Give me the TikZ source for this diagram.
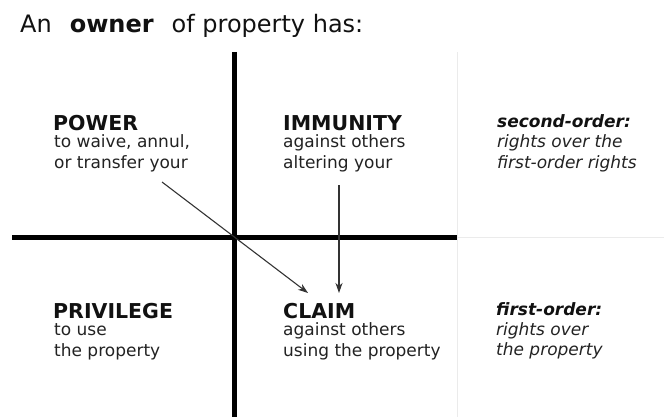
\documentclass[tikz,border=0pt]{standalone}
\usepackage{fontspec}
\setmainfont{DejaVu Sans}
\usetikzlibrary{arrows.meta}
\definecolor{ink}{HTML}{111111}
\definecolor{sub}{HTML}{222222}
\definecolor{faint}{HTML}{EBEBEB}
\definecolor{arr}{HTML}{333333}
\tikzset{
  head/.style={anchor=base west,inner sep=0pt,text=ink,font=\fontsize{20.5}{24}\selectfont\bfseries},
  body/.style={anchor=base west,inner sep=0pt,text=sub,font=\fontsize{17}{20}\selectfont,align=left},
  ohead/.style={anchor=base west,inner sep=0pt,text=ink,font=\fontsize{17}{20}\selectfont\bfseries\itshape},
  obody/.style={anchor=base west,inner sep=0pt,text=sub,font=\fontsize{17}{20}\selectfont\itshape,align=left},
  thick axis/.style={line width=5pt,black},
  faint axis/.style={line width=1pt,faint},
  link/.style={line width=1.1pt,arr,-{Stealth[length=10pt,width=7pt,inset=3pt]},shorten >=0pt,shorten <=0pt}
}
\begin{document}
\begin{tikzpicture}[x=1pt,y=-1pt]
\useasboundingbox (0,0) rectangle (664,417);
% title
\node[anchor=base west,inner sep=0pt,text=ink,font=\fontsize{24}{28}\selectfont] (title) at (20,33)
  {An\hspace{0.75em}\textbf{owner}\hspace{0.75em}of property has:};
% faint axes
\coordinate (fv1) at (457,52);
\coordinate (fv2) at (457,417);
\coordinate (fh1) at (457,237.5);
\coordinate (fh2) at (664,237.5);
\draw[faint axis] (fv1) -- (fv2);
\draw[faint axis] (fh1) -- (fh2);
% thick axes
\coordinate (v1) at (234,52);
\coordinate (v2) at (234,417);
\coordinate (h1) at (12,237);
\coordinate (h2) at (457,237);
\draw[thick axis] (v1) -- (v2);
\draw[thick axis] (h1) -- (h2);
% quadrants
\node[head] (power) at (53,131) {POWER};
\node[body] (powertxt) at (54,148) {to waive, annul,};
\node[body] (powertxt2) at (54,168) {or transfer your};
\node[head] (immunity) at (283,131) {IMMUNITY};
\node[body] (immtxt) at (283,148) {against others};
\node[body] (immtxt2) at (283,168) {altering your};
\node[head] (privilege) at (53,318) {PRIVILEGE};
\node[body] (privtxt) at (54,335) {to use};
\node[body] (privtxt2) at (54,356) {the property};
\node[head] (claim) at (283,318) {CLAIM};
\node[body] (claimtxt) at (283,335) {against others};
\node[body] (claimtxt2) at (283,356) {using the property};
% orders
\node[ohead] (second) at (497,128) {second-order:};
\node[obody] (secondtxt) at (497,148) {rights over the};
\node[obody] (secondtxt2) at (497,168) {first-order rights};
\node[ohead] (first) at (496,315) {first-order:};
\node[obody] (firsttxt) at (496,335) {rights over};
\node[obody] (firsttxt2) at (496,355) {the property};
% arrows
\coordinate (pstart) at (162,182);
\coordinate (pend) at (308,293);
\coordinate (istart) at (339,185);
\coordinate (iend) at (339,293);
\draw[link] (pstart) -- (pend);
\draw[link] (istart) -- (iend);
\end{tikzpicture}
\end{document}
